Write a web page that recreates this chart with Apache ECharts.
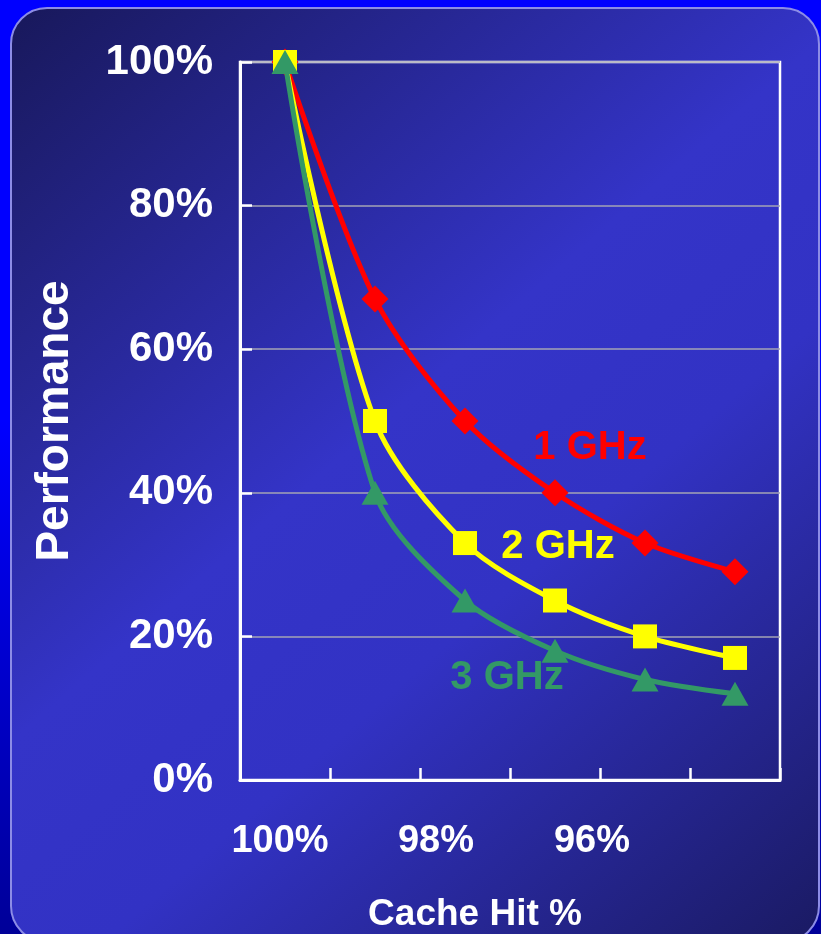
<!DOCTYPE html>
<html><head><meta charset="utf-8">
<script src="https://cdn.jsdelivr.net/npm/echarts@6/dist/echarts.min.js"></script>
<style>
html,body{margin:0;padding:0;width:821px;height:934px;overflow:hidden;
background:linear-gradient(180deg,#0000ff 0%,#0000ff 45%,#000098 100%);}
#c{width:821px;height:934px;}
</style>
</head><body><div id="c"></div>
<script>
const categories = ['100%', '99%', '98%', '97%', '96%', '95%'];
const ghz1 = [100, 67, 50, 40, 33, 29];
const ghz2 = [100, 50, 33, 25, 20, 17];
const ghz3 = [100, 40, 25, 18, 14, 12];
const seriesNames = ['1 GHz', '2 GHz', '3 GHz'];
const seriesColors = ['#ff0000', '#ffff00', '#339966'];
const labelIndex = [3, 3, 3];

const FONT = '"Liberation Sans", Arial, sans-serif';

function buildData(vals, si, offset) {
  return vals.map((v, i) => {
    if (i !== labelIndex[si]) return v;
    return {
      value: v,
      label: {
        show: true, position: 'inside', formatter: seriesNames[si],
        offset: offset, color: seriesColors[si],
        fontFamily: FONT, fontWeight: 'bold', fontSize: 40
      }
    };
  });
}

const chart = echarts.init(document.getElementById('c'), null, {renderer: 'canvas'});
const rich = {};
[[0, 10], [2, 58], [4, 106]].forEach(([i, p]) => {
  rich['c' + i] = {padding: [0, p, 0, 0], color: '#fff', fontFamily: FONT, fontWeight: 'bold', fontSize: 38};
});

chart.setOption({
  backgroundColor: 'transparent',
  animation: false,
  graphic: [{
    type: 'rect', z: -10, silent: true,
    shape: {x: 11, y: 8, width: 808, height: 934, r: 36},
    style: {
      fill: new echarts.graphic.LinearGradient(0, 0, 1, 1, [
        {offset: 0, color: '#18185a'},
        {offset: 0.45, color: '#3434c8'},
        {offset: 0.62, color: '#3232c4'},
        {offset: 1, color: '#1a1a62'}
      ]),
      stroke: '#8c8ce6', lineWidth: 2
    }
  }],
  grid: {left: 240, right: 41, top: 62, bottom: 154, outerBoundsMode: 'none', containLabel: false,
         show: true, borderColor: '#ffffff', borderWidth: 2.5, backgroundColor: 'transparent'},
  xAxis: {
    type: 'category', data: categories, boundaryGap: true,
    name: 'Cache Hit %', nameLocation: 'middle', nameGap: 116,
    nameTextStyle: {color: '#fff', fontFamily: FONT, fontWeight: 'bold', fontSize: 37, padding: [0, 70, 0, 0]},
    axisLine: {lineStyle: {color: '#fff', width: 3}},
    axisTick: {show: true, inside: true, length: 12, interval: 0, alignWithLabel: false, lineStyle: {color: '#fff', width: 2.5}},
    axisLabel: {
      interval: 1, margin: 43, color: '#fff', fontFamily: FONT, fontWeight: 'bold', fontSize: 38,
      formatter: (v, i) => '{c' + i + '|' + v + '}', rich: rich
    },
    splitLine: {show: false}
  },
  yAxis: {
    type: 'value', min: 0, max: 100, interval: 20,
    name: 'Performance', nameLocation: 'middle', nameGap: 162, nameRotate: 90,
    nameTextStyle: {color: '#fff', fontFamily: FONT, fontWeight: 'bold', fontSize: 46},
    axisLine: {show: true, lineStyle: {color: '#fff', width: 3}},
    axisTick: {show: true, inside: true, length: 12, lineStyle: {color: '#fff', width: 2.5}},
    axisLabel: {margin: 27, color: '#fff', fontFamily: FONT, fontWeight: 'bold', fontSize: 42, formatter: '{value}%'},
    splitLine: {show: true, lineStyle: {color: '#a4a4b4', width: 1.5}}
  },
  series: [
    {name: seriesNames[0], type: 'line', data: buildData(ghz1, 0, [35, -45]), smooth: 0.3,
     symbol: 'diamond', symbolSize: [27, 27], lineStyle: {color: seriesColors[0], width: 5},
     itemStyle: {color: seriesColors[0]}, z: 2},
    {name: seriesNames[1], type: 'line', data: buildData(ghz2, 1, [3, -54]), smooth: 0.3,
     symbol: 'rect', symbolSize: [24, 24], lineStyle: {color: seriesColors[1], width: 5},
     itemStyle: {color: seriesColors[1]}, z: 3},
    {name: seriesNames[2], type: 'line', data: buildData(ghz3, 2, [-48, 27]), smooth: 0.3,
     symbol: 'triangle', symbolSize: [27, 24], lineStyle: {color: seriesColors[2], width: 5},
     itemStyle: {color: seriesColors[2]}, z: 4}
  ]
});
</script>
</body></html>
